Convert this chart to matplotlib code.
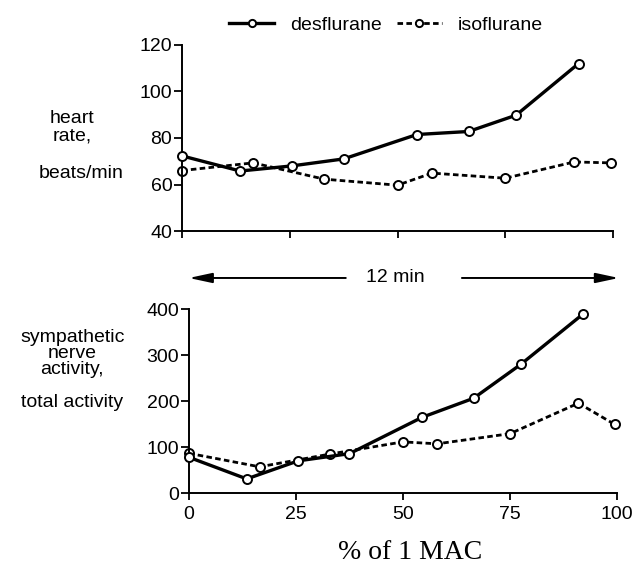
import matplotlib.pyplot as plt

plt.rcParams['font.family'] = ['Liberation Sans', 'DejaVu Sans']

# ---------- data ----------
des_x = [0, 13.5, 25.5, 37.5, 54.5, 66.5, 77.5, 92]
iso_x = [0, 16.5, 33, 50, 58, 75, 91, 99.5]

hr_des = [72.3, 65.8, 68, 71, 81.5, 82.8, 89.8, 112]
hr_iso = [66, 69.3, 62.3, 59.7, 64.9, 62.7, 69.7, 69.3]

sna_des = [77.7, 30.7, 69.9, 85.6, 164.7, 206, 279.5, 388.6]
sna_iso = [86.3, 57, 84.8, 111.2, 107, 129, 195.4, 149]

x_ticks = [0, 25, 50, 75, 100]
hr_ticks = [40, 60, 80, 100, 120]
sna_ticks = [0, 100, 200, 300, 400]

FS = 14

fig = plt.figure(figsize=(6.38, 5.68), dpi=100)
ax1 = fig.add_axes([0.2853, 0.5933, 0.6755, 0.3275])
ax2 = fig.add_axes([0.2962, 0.1320, 0.6708, 0.3239])

mk = dict(marker='o', markersize=6.5, markerfacecolor='white',
          markeredgecolor='black', markeredgewidth=1.4, color='black')

for ax, yd, yi, yt in [(ax1, hr_des, hr_iso, hr_ticks),
                       (ax2, sna_des, sna_iso, sna_ticks)]:
    ax.plot(des_x, yd, '-', lw=2.4, label='desflurane', zorder=3, **mk)
    ax.plot(iso_x, yi, '--', lw=2.0, dashes=(2.0, 1.2), label='isoflurane', zorder=2, **mk)
    ax.set_xlim(0, 100)
    ax.set_ylim(yt[0], yt[-1])
    ax.set_xticks(x_ticks)
    ax.set_yticks(yt)
    for s in ['top', 'right']:
        ax.spines[s].set_visible(False)
    for s in ['left', 'bottom']:
        ax.spines[s].set_linewidth(1.4)
    ax.tick_params(axis='y', direction='out', length=6, width=1.3, labelsize=FS, pad=1)
    ax.tick_params(axis='x', direction='out', length=5, width=1.3, labelsize=FS, pad=4)
    for line in ax.lines:
        line.set_clip_on(False)

ax1.tick_params(axis='x', labelbottom=False)

# y labels
fig.text(0.113, 0.776, 'heart\nrate,', ha='center', va='center', fontsize=FS, linespacing=1.0)
fig.text(0.127, 0.695, 'beats/min', ha='center', va='center', fontsize=FS)
fig.text(0.113, 0.378, 'sympathetic\nnerve\nactivity,', ha='center', va='center',
         fontsize=FS, linespacing=0.93)
fig.text(0.113, 0.292, 'total activity', ha='center', va='center', fontsize=FS)

# x label
fig.text(0.643, 0.027, '% of 1 MAC', ha='center', va='center', fontsize=20,
         family=['Liberation Serif', 'DejaVu Serif'])

# 12 min arrows
arrow = dict(arrowstyle='-|>,head_length=1.4,head_width=0.3', color='black', lw=1.4,
             shrinkA=0, shrinkB=0)
fig.text(0.619, 0.5106, '12 min', ha='center', va='center', fontsize=FS)
ax2.annotate('', xy=(0.296, 0.5106), xytext=(0.542, 0.5106),
             xycoords='figure fraction', textcoords='figure fraction', arrowprops=arrow)
ax2.annotate('', xy=(0.970, 0.5106), xytext=(0.724, 0.5106),
             xycoords='figure fraction', textcoords='figure fraction', arrowprops=arrow)

# legend
fig.legend(handles=ax1.lines, labels=['desflurane', 'isoflurane'], loc='center',
           bbox_to_anchor=(0.605, 0.956), ncol=2, frameon=False, fontsize=FS,
           numpoints=1, handlelength=2.3, handletextpad=0.8, columnspacing=0.8,
           markerscale=0.8)

fig.savefig('out.png', dpi=100)
